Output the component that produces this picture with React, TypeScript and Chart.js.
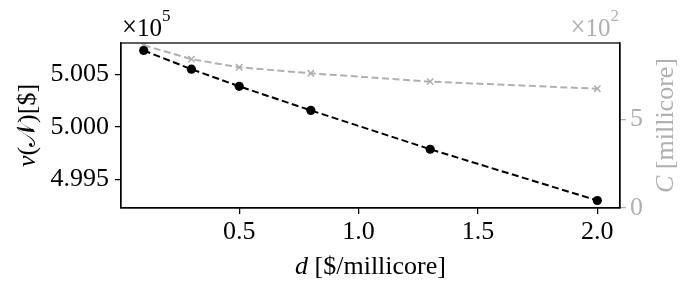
import React, { useEffect, useRef } from 'react';
import { Chart, registerables } from 'chart.js';

Chart.register(...registerables);

// ---- data ----
const priceD = [0.1, 0.3, 0.5, 0.8, 1.3, 2.0];
const valueNu = [500727, 500549, 500386, 500157, 499787, 499299];
const cpuC = [920, 841, 795, 761, 714, 674];
const xTickValues = [0.5, 1.0, 1.5, 2.0];
const leftTickValues = [499500, 500000, 500500];
const rightTickValues = [0, 500];
const leftExp = 5;
const rightExp = 2;

const SERIF = '"Liberation Serif", "DejaVu Serif", serif';
const GRAY = '#b0b0b0';
const FS = 26;

const padRange = (arr: number[]) => {
  const mn = Math.min(...arr);
  const mx = Math.max(...arr);
  const p = 0.05 * (mx - mn);
  return [mn - p, mx + p];
};

type Seg = { t: string; it?: boolean; font?: string; w?: number; dy?: number };

function drawSegs(ctx: CanvasRenderingContext2D, segs: Seg[], x: number, y: number, align: 'left' | 'center' | 'right', color: string) {
  const fontOf = (s: Seg) => s.font || `${s.it ? 'italic ' : ''}${FS}px ${SERIF}`;
  const widths = segs.map((s) => {
    ctx.font = fontOf(s);
    const m = ctx.measureText(s.t).width;
    return s.w !== undefined ? s.w : m;
  });
  const total = widths.reduce((a, b) => a + b, 0);
  let cx = align === 'left' ? x : align === 'center' ? x - total / 2 : x - total;
  ctx.fillStyle = color;
  ctx.textAlign = 'left';
  ctx.textBaseline = 'alphabetic';
  segs.forEach((s, i) => {
    ctx.font = fontOf(s);
    const m = ctx.measureText(s.t).width;
    if (s.w !== undefined && m > 0) {
      ctx.save();
      ctx.translate(cx, y + (s.dy || 0));
      ctx.scale(s.w / m, 1);
      ctx.fillText(s.t, 0, 0);
      ctx.restore();
    } else {
      ctx.fillText(s.t, cx, y + (s.dy || 0));
    }
    cx += widths[i];
  });
}

const decorPlugin = {
  id: 'decor',
  afterDraw(chart: any) {
    const { ctx, chartArea } = chart;
    const { left, right, top, bottom } = chartArea;
    ctx.save();
    ctx.strokeStyle = '#000';
    ctx.lineWidth = 1.25;
    ctx.strokeRect(left, top, right - left, bottom - top);

    // x title
    drawSegs(ctx, [{ t: 'd', it: true }, { t: ' [$/millicore]' }], (left + right) / 2, 274, 'center', '#000');

    // left title (rotated)
    ctx.save();
    ctx.translate(35, (top + bottom) / 2);
    ctx.rotate(-Math.PI / 2);
    drawSegs(ctx, [{ t: 'ν', it: true }, { t: '(' }, { t: '𝒩', w: 24 }, { t: ')[$]' }], 0, 0, 'center', '#000');
    ctx.restore();

    // right title (rotated)
    ctx.save();
    ctx.translate(673, (top + bottom) / 2);
    ctx.rotate(-Math.PI / 2);
    drawSegs(ctx, [{ t: 'C', it: true }, { t: ' [millicore]' }], 0, 0, 'center', GRAY);
    ctx.restore();

    // offset texts (×10^n)
    const off = (exp: number): Seg[] => [
      { t: '×', font: `30px ${SERIF}`, w: 15 },
      { t: '10', font: `25px ${SERIF}` },
      { t: String(exp), font: `17px ${SERIF}`, dy: -15 },
    ];
    drawSegs(ctx, off(leftExp), left + 1, 36, 'left', '#000');
    drawSegs(ctx, off(rightExp), right - 1, 36, 'right', GRAY);
    ctx.restore();
  },
};

export default function App() {
  const ref = useRef<HTMLCanvasElement>(null);
  useEffect(() => {
    document.body.style.margin = '0';
    const [xMin, xMax] = padRange(priceD);
    const [yMin, yMax] = padRange(valueNu);
    const cMax = Math.max(...cpuC) + 0.05 * (Math.max(...cpuC) - Math.min(...cpuC));
    const tickFont = { family: SERIF, size: FS };
    const chart = new Chart(ref.current!, {
      type: 'line',
      data: {
        datasets: [
          {
            label: 'value',
            data: priceD.map((x, i) => ({ x, y: valueNu[i] })),
            yAxisID: 'y',
            borderColor: '#000',
            backgroundColor: '#000',
            borderWidth: 2,
            borderDash: [7, 3.5],
            pointRadius: 4.6,
            pointStyle: 'circle',
            pointBorderWidth: 0,
            order: 0,
          },
          {
            label: 'cpu',
            data: priceD.map((x, i) => ({ x, y: cpuC[i] })),
            yAxisID: 'y2',
            borderColor: GRAY,
            backgroundColor: GRAY,
            borderWidth: 2,
            borderDash: [7, 3.5],
            pointRadius: 4.5,
            pointStyle: 'crossRot',
            pointBorderWidth: 1.5,
            pointBorderColor: GRAY,
            order: 1,
          },
        ],
      },
      options: {
        animation: false,
        responsive: false,
        layout: { padding: { top: 43, left: 0, right: 0, bottom: 0 } },
        plugins: { legend: { display: false }, tooltip: { enabled: false } },
        scales: {
          x: {
            type: 'linear',
            min: xMin,
            max: xMax,
            afterBuildTicks: (s: any) => { s.ticks = xTickValues.map((v) => ({ value: v })); },
            afterFit: (s: any) => { s.height = 82; },
            ticks: { callback: (v: any) => Number(v).toFixed(1), font: tickFont, color: '#000', padding: 3, maxRotation: 0, autoSkip: false },
            grid: { drawOnChartArea: false, drawTicks: true, tickLength: 6, color: '#000', lineWidth: 1.25 },
            border: { display: true, color: '#000', width: 1.25 },
          },
          y: {
            type: 'linear',
            position: 'left',
            min: yMin,
            max: yMax,
            afterBuildTicks: (s: any) => { s.ticks = leftTickValues.map((v) => ({ value: v })); },
            afterFit: (s: any) => { s.width = 121; },
            ticks: { callback: (v: any) => (Number(v) / Math.pow(10, leftExp)).toFixed(3), font: tickFont, color: '#000', padding: 6, autoSkip: false },
            grid: { drawOnChartArea: false, drawTicks: true, tickLength: 6, color: '#000', lineWidth: 1.25 },
            border: { display: true, color: '#000', width: 1.25 },
          },
          y2: {
            type: 'linear',
            position: 'right',
            min: 0,
            max: cMax,
            afterBuildTicks: (s: any) => { s.ticks = rightTickValues.map((v) => ({ value: v })); },
            afterFit: (s: any) => { s.width = 69; },
            ticks: { callback: (v: any) => String(Number(v) / Math.pow(10, rightExp)), font: tickFont, color: GRAY, padding: 4, autoSkip: false },
            grid: { drawOnChartArea: false, drawTicks: true, tickLength: 6, color: GRAY, lineWidth: 1.25 },
            border: { display: true, color: '#000', width: 1.25 },
          },
        },
      },
      plugins: [decorPlugin],
    } as any);
    return () => chart.destroy();
  }, []);
  return (
    <div style={{ width: 689, height: 290, position: 'relative' }}>
      <canvas ref={ref} width={689} height={290} style={{ display: 'block', width: 689, height: 290 }} />
    </div>
  );
}
